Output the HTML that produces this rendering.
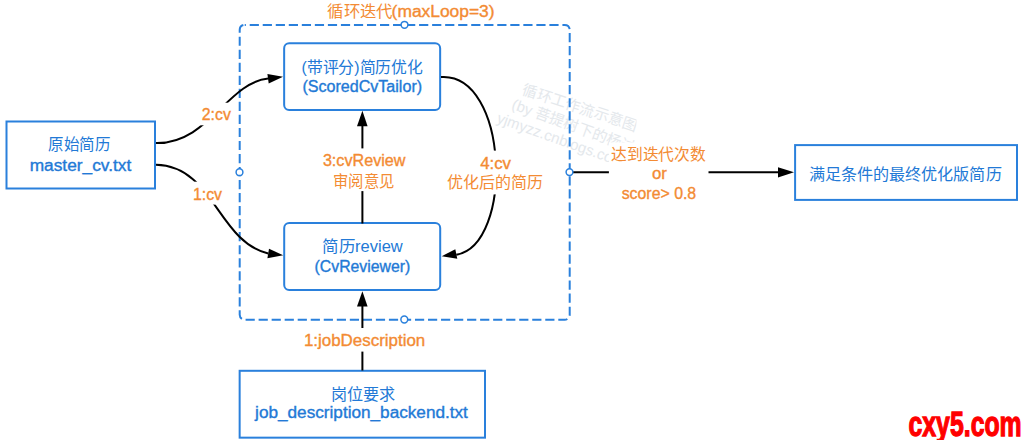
<!DOCTYPE html>
<html lang="zh-CN"><head><meta charset="utf-8"><title>diagram</title>
<style>html,body{margin:0;padding:0;background:#fff;width:1026px;height:445px;overflow:hidden}
svg{display:block;font-family:"Liberation Sans",sans-serif}</style></head>
<body><svg width="1026" height="445" viewBox="0 0 1026 445">
<defs><clipPath id="cxclip"><rect x="880" y="395" width="146" height="45"/></clipPath><clipPath id="wmclip"><rect x="0" y="0" width="636.5" height="445"/></clipPath></defs>
<g clip-path="url(#wmclip)"><g transform="translate(580,108) rotate(18)" fill="#e4e8ec" font-size="15" text-anchor="middle">
<text x="0" y="5">循环工作流示意图</text>
<text x="1.8" y="22" transform="rotate(2 -64 22)">(by 菩提树下的杨过)</text>
<text x="-8.5" y="39.5" transform="rotate(1.6 -75 39.5)">yjmyzz.cnblogs.com</text>
</g></g>
<path d="M244.7,24.9 H564.7 A5,5 0 0 1 569.7,29.9 V314.8 A5,5 0 0 1 564.7,319.8 H244.7 A5,5 0 0 1 239.7,314.8 V29.9 A5,5 0 0 1 244.7,24.9 Z" fill="none" stroke="#2a80dc" stroke-width="2" stroke-dasharray="9.2 3.83" stroke-dashoffset="8.03"/>
<rect x="6.5" y="121.5" width="148.5" height="67" fill="none" stroke="#2a80dc" stroke-width="2"/>
<rect x="284.15" y="43.3" width="156" height="66.8" rx="5" fill="none" stroke="#2a80dc" stroke-width="2"/>
<rect x="284.2" y="223" width="156" height="67.1" rx="5" fill="none" stroke="#2a80dc" stroke-width="2"/>
<rect x="239.65" y="370.8" width="245.35" height="66.86" fill="none" stroke="#2a80dc" stroke-width="2"/>
<rect x="795.1" y="145.1" width="221.9" height="54.8" fill="none" stroke="#2a80dc" stroke-width="2"/>
<path d="M156,143.1 C208.4,144 227.3,82.5 268.2,78.5" fill="none" stroke="#000" stroke-width="2"/>
<polygon points="283,76.7 267.4,74 268.7,83.6" fill="#000"/>
<path d="M156,164.8 C213.8,166 217.8,241.6 268.2,253.5" fill="none" stroke="#000" stroke-width="2"/>
<polygon points="283.2,255.3 269,248.8 267.4,258.2" fill="#000"/>
<path d="M441,77.1 C508.6,72.5 514.3,244.7 456.3,254.8" fill="none" stroke="#000" stroke-width="2"/>
<polygon points="441.7,256.2 455.3,249.3 457.3,258.8" fill="#000"/>
<line x1="362.4" y1="223.5" x2="362.4" y2="125" stroke="#000" stroke-width="2"/>
<polygon points="362.4,110.8 357,126.3 367.6,126.3" fill="#000"/>
<line x1="362.4" y1="370.5" x2="362.4" y2="305" stroke="#000" stroke-width="2"/>
<polygon points="362.4,291.2 357,306.4 367.6,306.4" fill="#000"/>
<line x1="569.7" y1="172.35" x2="779" y2="172.35" stroke="#000" stroke-width="2"/>
<polygon points="794,172.3 778,167.2 778,177.4" fill="#000"/>
<rect x="198" y="102.7" width="36" height="22.6" fill="#fff"/>
<rect x="190" y="181.7" width="35" height="22.9" fill="#fff"/>
<rect x="318" y="148.4" width="92" height="42.7" fill="#fff"/>
<rect x="445" y="150.6" width="100" height="43.8" fill="#fff"/>
<rect x="608.9" y="142.4" width="99.6" height="62" fill="#fff"/>
<rect x="300" y="328" width="128" height="23.6" fill="#fff"/>
<circle cx="404.5" cy="24.8" r="3.4" fill="#fff" stroke="#2a80dc" stroke-width="1.5"/>
<circle cx="239.5" cy="172.2" r="3.4" fill="#fff" stroke="#2a80dc" stroke-width="1.5"/>
<circle cx="569.5" cy="172.1" r="3.4" fill="#fff" stroke="#2a80dc" stroke-width="1.5"/>
<circle cx="404.3" cy="319.5" r="3.4" fill="#fff" stroke="#2a80dc" stroke-width="1.5"/>
<text x="327.2" y="17.0" fill="#f38b33" font-size="16" font-weight="400" textLength="65.5" lengthAdjust="spacingAndGlyphs">循环迭代</text>
<text x="391.6" y="17.0" fill="#f38b33" stroke="#f38b33" stroke-width="0.35" font-size="16" font-weight="400" textLength="103" lengthAdjust="spacingAndGlyphs">(maxLoop=3)</text>
<text x="48" y="150" fill="#2279d6" font-size="16" font-weight="400" textLength="62" lengthAdjust="spacingAndGlyphs">原始简历</text>
<text x="29.7" y="170.6" fill="#2279d6" stroke="#2279d6" stroke-width="0.35" font-size="16" font-weight="400" textLength="101.6" lengthAdjust="spacingAndGlyphs">master_cv.txt</text>
<text x="201.8" y="119.9" fill="#f38b33" stroke="#f38b33" stroke-width="0.35" font-size="16" font-weight="400" textLength="29" lengthAdjust="spacingAndGlyphs">2:cv</text>
<text x="193" y="199.7" fill="#f38b33" stroke="#f38b33" stroke-width="0.35" font-size="16" font-weight="400" textLength="29" lengthAdjust="spacingAndGlyphs">1:cv</text>
<text x="301.6" y="72.5" fill="#2279d6" font-size="16" font-weight="400" textLength="121.2" lengthAdjust="spacingAndGlyphs">(带评分)简历优化</text>
<text x="302.4" y="91.7" fill="#2279d6" stroke="#2279d6" stroke-width="0.35" font-size="16" font-weight="400" textLength="119.7" lengthAdjust="spacingAndGlyphs">(ScoredCvTailor)</text>
<text x="322.9" y="165.8" fill="#f38b33" stroke="#f38b33" stroke-width="0.35" font-size="16" font-weight="400" textLength="82.6" lengthAdjust="spacingAndGlyphs">3:cvReview</text>
<text x="333" y="186.5" fill="#f38b33" font-size="16" font-weight="400" textLength="61.3" lengthAdjust="spacingAndGlyphs">审阅意见</text>
<text x="480.2" y="168.6" fill="#f38b33" stroke="#f38b33" stroke-width="0.35" font-size="16" font-weight="400" textLength="30.8" lengthAdjust="spacingAndGlyphs">4:cv</text>
<text x="447" y="188.2" fill="#f38b33" font-size="16" font-weight="400" textLength="95.8" lengthAdjust="spacingAndGlyphs">优化后的简历</text>
<text x="322.2" y="251.8" fill="#2279d6" font-size="16" font-weight="400" textLength="80.5" lengthAdjust="spacingAndGlyphs">简历review</text>
<text x="314.6" y="271.8" fill="#2279d6" stroke="#2279d6" stroke-width="0.35" font-size="16" font-weight="400" textLength="95.7" lengthAdjust="spacingAndGlyphs">(CvReviewer)</text>
<text x="611" y="160" fill="#f38b33" font-size="16" font-weight="400" textLength="94.7" lengthAdjust="spacingAndGlyphs">达到迭代次数</text>
<text x="651.9" y="179.3" fill="#f38b33" stroke="#f38b33" stroke-width="0.35" font-size="16" font-weight="400" textLength="14.9" lengthAdjust="spacingAndGlyphs">or</text>
<text x="621.7" y="199.4" fill="#f38b33" stroke="#f38b33" stroke-width="0.35" font-size="16" font-weight="400" textLength="74.5" lengthAdjust="spacingAndGlyphs">score> 0.8</text>
<text x="303.9" y="345.8" fill="#f38b33" stroke="#f38b33" stroke-width="0.35" font-size="16" font-weight="400" textLength="121.4" lengthAdjust="spacingAndGlyphs">1:jobDescription</text>
<text x="331" y="399.6" fill="#2279d6" font-size="16" font-weight="400" textLength="64.3" lengthAdjust="spacingAndGlyphs">岗位要求</text>
<text x="255.1" y="418.2" fill="#2279d6" stroke="#2279d6" stroke-width="0.35" font-size="16" font-weight="400" textLength="212.8" lengthAdjust="spacingAndGlyphs">job_description_backend.txt</text>
<text x="808.6" y="179.5" fill="#2279d6" font-size="16" font-weight="400" textLength="193" lengthAdjust="spacingAndGlyphs">满足条件的最终优化版简历</text>
<g clip-path="url(#cxclip)"><text x="908.5" y="435.9" fill="#f00" stroke="#f00" stroke-width="1.3" font-size="35.5" font-weight="700" textLength="113.2" lengthAdjust="spacingAndGlyphs">cxy5.com</text></g>
</svg></body></html>
